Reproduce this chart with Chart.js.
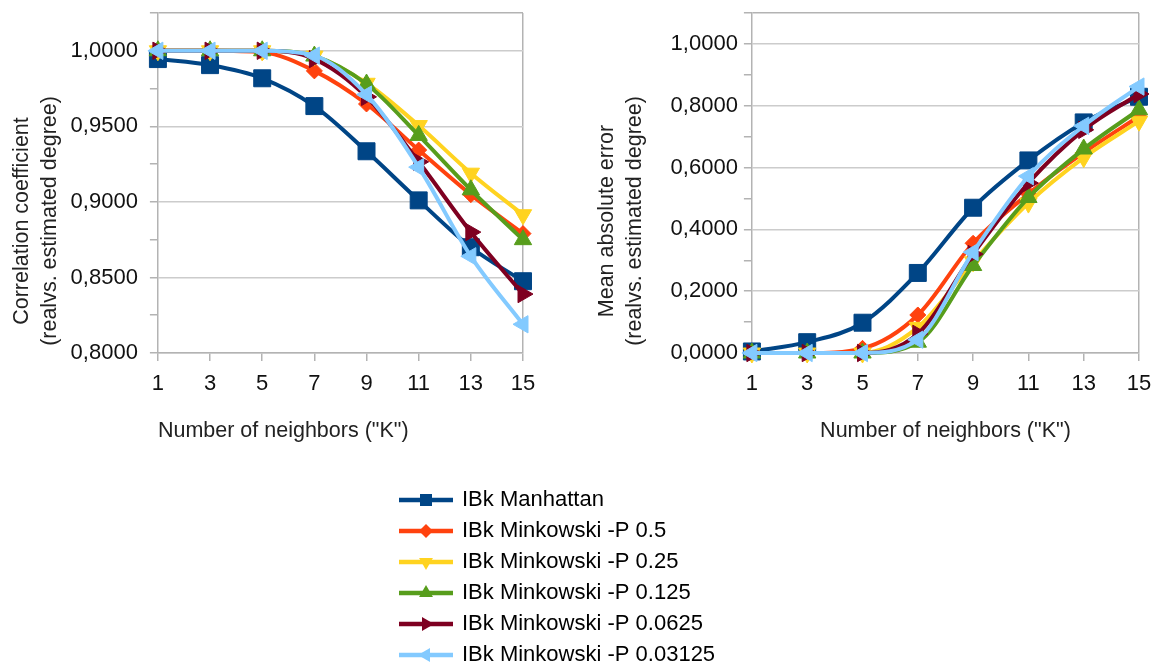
<!DOCTYPE html>
<html>
<head>
<meta charset="utf-8">
<script src="https://cdn.jsdelivr.net/npm/chart.js@4.4.1/dist/chart.umd.min.js"></script>
<style>
  html, body { margin: 0; padding: 0; background: #fff; overflow: hidden; }
  body { width: 1162px; height: 668px; position: relative; }
  canvas { position: absolute; }
  #corrChart   { left: 0;     top: 0; }
  #maeChart    { left: 585px; top: 0; }
  #legendChart { left: 392px; top: 480px; }
</style>
</head>
<body>
<canvas id="corrChart" width="553" height="442"></canvas>
<canvas id="maeChart" width="577" height="442"></canvas>
<canvas id="legendChart" width="400" height="400"></canvas>
<script>
/* ── Data ── */
const kLabels = ['1', '3', '5', '7', '9', '11', '13', '15'];

const seriesNames = [
  'IBk Manhattan',
  'IBk Minkowski -P 0.5',
  'IBk Minkowski -P 0.25',
  'IBk Minkowski -P 0.125',
  'IBk Minkowski -P 0.0625',
  'IBk Minkowski -P 0.03125',
];

// correlation coefficient (real vs. estimated degree)
const corrManhattan = [0.9945, 0.9905, 0.9818, 0.9634, 0.9335, 0.9010, 0.8700, 0.8475];
const corrP05       = [1.0000, 1.0000, 0.9990, 0.9867, 0.9648, 0.9343, 0.9048, 0.8790];
const corrP025      = [1.0000, 1.0000, 1.0000, 0.9965, 0.9785, 0.9505, 0.9190, 0.8915];
const corrP0125     = [1.0000, 1.0000, 1.0000, 0.9965, 0.9780, 0.9440, 0.9080, 0.8750];
const corrP00625    = [1.0000, 1.0000, 1.0000, 0.9945, 0.9695, 0.9265, 0.8800, 0.8390];
const corrP003125   = [1.0000, 1.0000, 1.0000, 0.9968, 0.9710, 0.9230, 0.8640, 0.8190];

// mean absolute error (real vs. estimated degree)
const maeManhattan = [0.005, 0.035, 0.098, 0.259, 0.470, 0.623, 0.746, 0.829];
const maeP05       = [0.000, 0.000, 0.015, 0.123, 0.355, 0.515, 0.648, 0.765];
const maeP025      = [0.000, 0.000, 0.000, 0.083, 0.295, 0.485, 0.632, 0.750];
const maeP0125     = [0.000, 0.000, 0.000, 0.035, 0.283, 0.503, 0.660, 0.787];
const maeP00625    = [0.000, 0.000, 0.000, 0.062, 0.320, 0.550, 0.722, 0.838];
const maeP003125   = [0.000, 0.000, 0.000, 0.043, 0.326, 0.572, 0.735, 0.862];

/* ── Styles ── */
const seriesColors   = ['#004586', '#ff420e', '#ffd320', '#579d1c', '#7e0021', '#83caff'];
const markerStyles   = ['rect', 'rectRot', 'triangle', 'triangle', 'triangle', 'triangle'];
const markerRotation = [0, 0, 180, 0, 90, 270];
const markerRadius   = [12, 8, 10, 10, 10, 10];

const FONT   = 'Liberation Sans';
const GRID   = '#cccccc';
const BORDER = '#b3b3b3';
const NONE   = 'rgba(0,0,0,0)';

Chart.defaults.font.family = FONT;
Chart.defaults.animation = false;

const fmt = v => v.toFixed(4).replace('.', ',');
const isMajor = (v, step) => Math.abs(v / step - Math.round(v / step)) < 1e-6;

function buildDatasets(seriesValues) {
  return seriesValues.map((data, i) => ({
    label: seriesNames[i],
    data,
    borderColor: seriesColors[i],
    backgroundColor: seriesColors[i],
    borderWidth: 4,
    pointStyle: markerStyles[i],
    pointRotation: markerRotation[i],
    pointRadius: markerRadius[i],
    pointHoverRadius: markerRadius[i],
    pointBackgroundColor: seriesColors[i],
    pointBorderColor: seriesColors[i],
    pointBorderWidth: 1,
    cubicInterpolationMode: 'monotone',
    fill: false,
    clip: false,
    order: seriesValues.length - i,   // later series drawn on top
  }));
}

function makeChart(id, opts) {
  return new Chart(document.getElementById(id), {
    type: 'line',
    data: { labels: kLabels, datasets: buildDatasets(opts.series) },
    options: {
      responsive: false,
      events: [],
      layout: { padding: { top: 0, left: 0, bottom: 0, right: opts.padRight } },
      plugins: {
        legend: { display: false },
        tooltip: { enabled: false },
        title: {
          display: true,
          position: 'left',
          text: opts.yTitle,
          color: '#222',
          font: { family: FONT, size: 21.5, weight: 'normal', lineHeight: 1.3 },
          padding: { top: 8, bottom: 4 },
        },
      },
      scales: {
        x: {
          type: 'category',
          offset: false,
          afterFit: s => { s.height = 89; },
          grid: {
            offset: false,
            lineWidth: 1.5,
            color: c => (c.index === kLabels.length - 1 ? BORDER : NONE),
            tickColor: BORDER,
            tickLength: 8,
          },
          border: { display: true, color: BORDER, width: 1.5 },
          ticks: {
            autoSkip: false, maxRotation: 0, padding: 10, color: '#111',
            font: { family: FONT, size: 22 },
          },
          title: {
            display: true,
            text: 'Number of neighbors ("K")',
            align: opts.xTitleAlign,
            color: '#222',
            font: { family: FONT, size: 21.5, lineHeight: 1.0 },
            padding: { top: 0, bottom: 0 },
          },
        },
        y: {
          min: opts.min, max: opts.max,
          afterFit: s => { s.width = opts.yWidth; s.paddingTop = 10; },
          grid: {
            lineWidth: 1.5,
            color: c => {
              if (c.index === c.scale.ticks.length - 1) return BORDER;
              return c.tick && isMajor(c.tick.value, opts.major) ? GRID : NONE;
            },
            tickColor: BORDER,
            tickLength: 8,
          },
          border: { display: true, color: BORDER, width: 1.5 },
          ticks: {
            stepSize: opts.minor,
            autoSkip: false,
            padding: opts.tickPad,
            color: '#111',
            font: { family: FONT, size: 22, lineHeight: 0.9 },
            callback: v => (isMajor(v, opts.major) ? fmt(v) : ''),
          },
        },
      },
    },
  });
}

makeChart('corrChart', {
  series: [corrManhattan, corrP05, corrP025, corrP0125, corrP00625, corrP003125],
  yTitle: ['Correlation coefficient', '(realvs. estimated degree)'],
  min: 0.8, max: 1.025, minor: 0.025, major: 0.05,
  yWidth: 90, tickPad: 12, padRight: 30, xTitleAlign: 'start',
});

makeChart('maeChart', {
  series: [maeManhattan, maeP05, maeP025, maeP0125, maeP00625, maeP003125],
  yTitle: ['Mean absolute error', '(realvs. estimated degree)'],
  min: 0, max: 1.1, minor: 0.1, major: 0.2,
  yWidth: 99, tickPad: 6, padRight: 23, xTitleAlign: 'center',
});

/* ── Shared legend: line + marker icons ── */
function legendIcon(i) {
  const cv = document.createElement('canvas');
  cv.width = 54; cv.height = 20;
  const g = cv.getContext('2d');
  const cx = 27, cy = 10, col = seriesColors[i];
  g.strokeStyle = col; g.fillStyle = col; g.lineWidth = 4.5;
  g.beginPath(); g.moveTo(0, cy); g.lineTo(54, cy); g.stroke();
  g.beginPath();
  if (markerStyles[i] === 'rect') {
    g.rect(cx - 6, cy - 6, 12, 12);
  } else if (markerStyles[i] === 'rectRot') {
    g.moveTo(cx, cy - 7); g.lineTo(cx + 7, cy); g.lineTo(cx, cy + 7); g.lineTo(cx - 7, cy);
  } else {
    const r = 8;
    let a = markerRotation[i] * Math.PI / 180;
    for (let k = 0; k < 3; k++, a += 2 * Math.PI / 3) {
      const px = cx + Math.sin(a) * r, py = cy - Math.cos(a) * r;
      k ? g.lineTo(px, py) : g.moveTo(px, py);
    }
  }
  g.closePath(); g.fill();
  return cv;
}

new Chart(document.getElementById('legendChart'), {
  type: 'line',
  data: { labels: [], datasets: [] },
  options: {
    responsive: false,
    events: [],
    scales: { x: { display: false }, y: { display: false } },
    plugins: {
      tooltip: { enabled: false },
      legend: {
        display: true,
        position: 'top',
        align: 'start',
        maxHeight: 300,
        labels: {
          usePointStyle: true,
          pointStyleWidth: 50,
          padding: 9,
          color: '#000',
          font: { family: FONT, size: 22 },
          generateLabels: () => seriesNames.map((name, i) => ({
            text: name,
            fillStyle: seriesColors[i],
            strokeStyle: seriesColors[i],
            fontColor: '#000',
            lineWidth: 0,
            pointStyle: legendIcon(i),
            rotation: 0,
            hidden: false,
            datasetIndex: i,
          })),
        },
      },
    },
  },
});
</script>
</body>
</html>
